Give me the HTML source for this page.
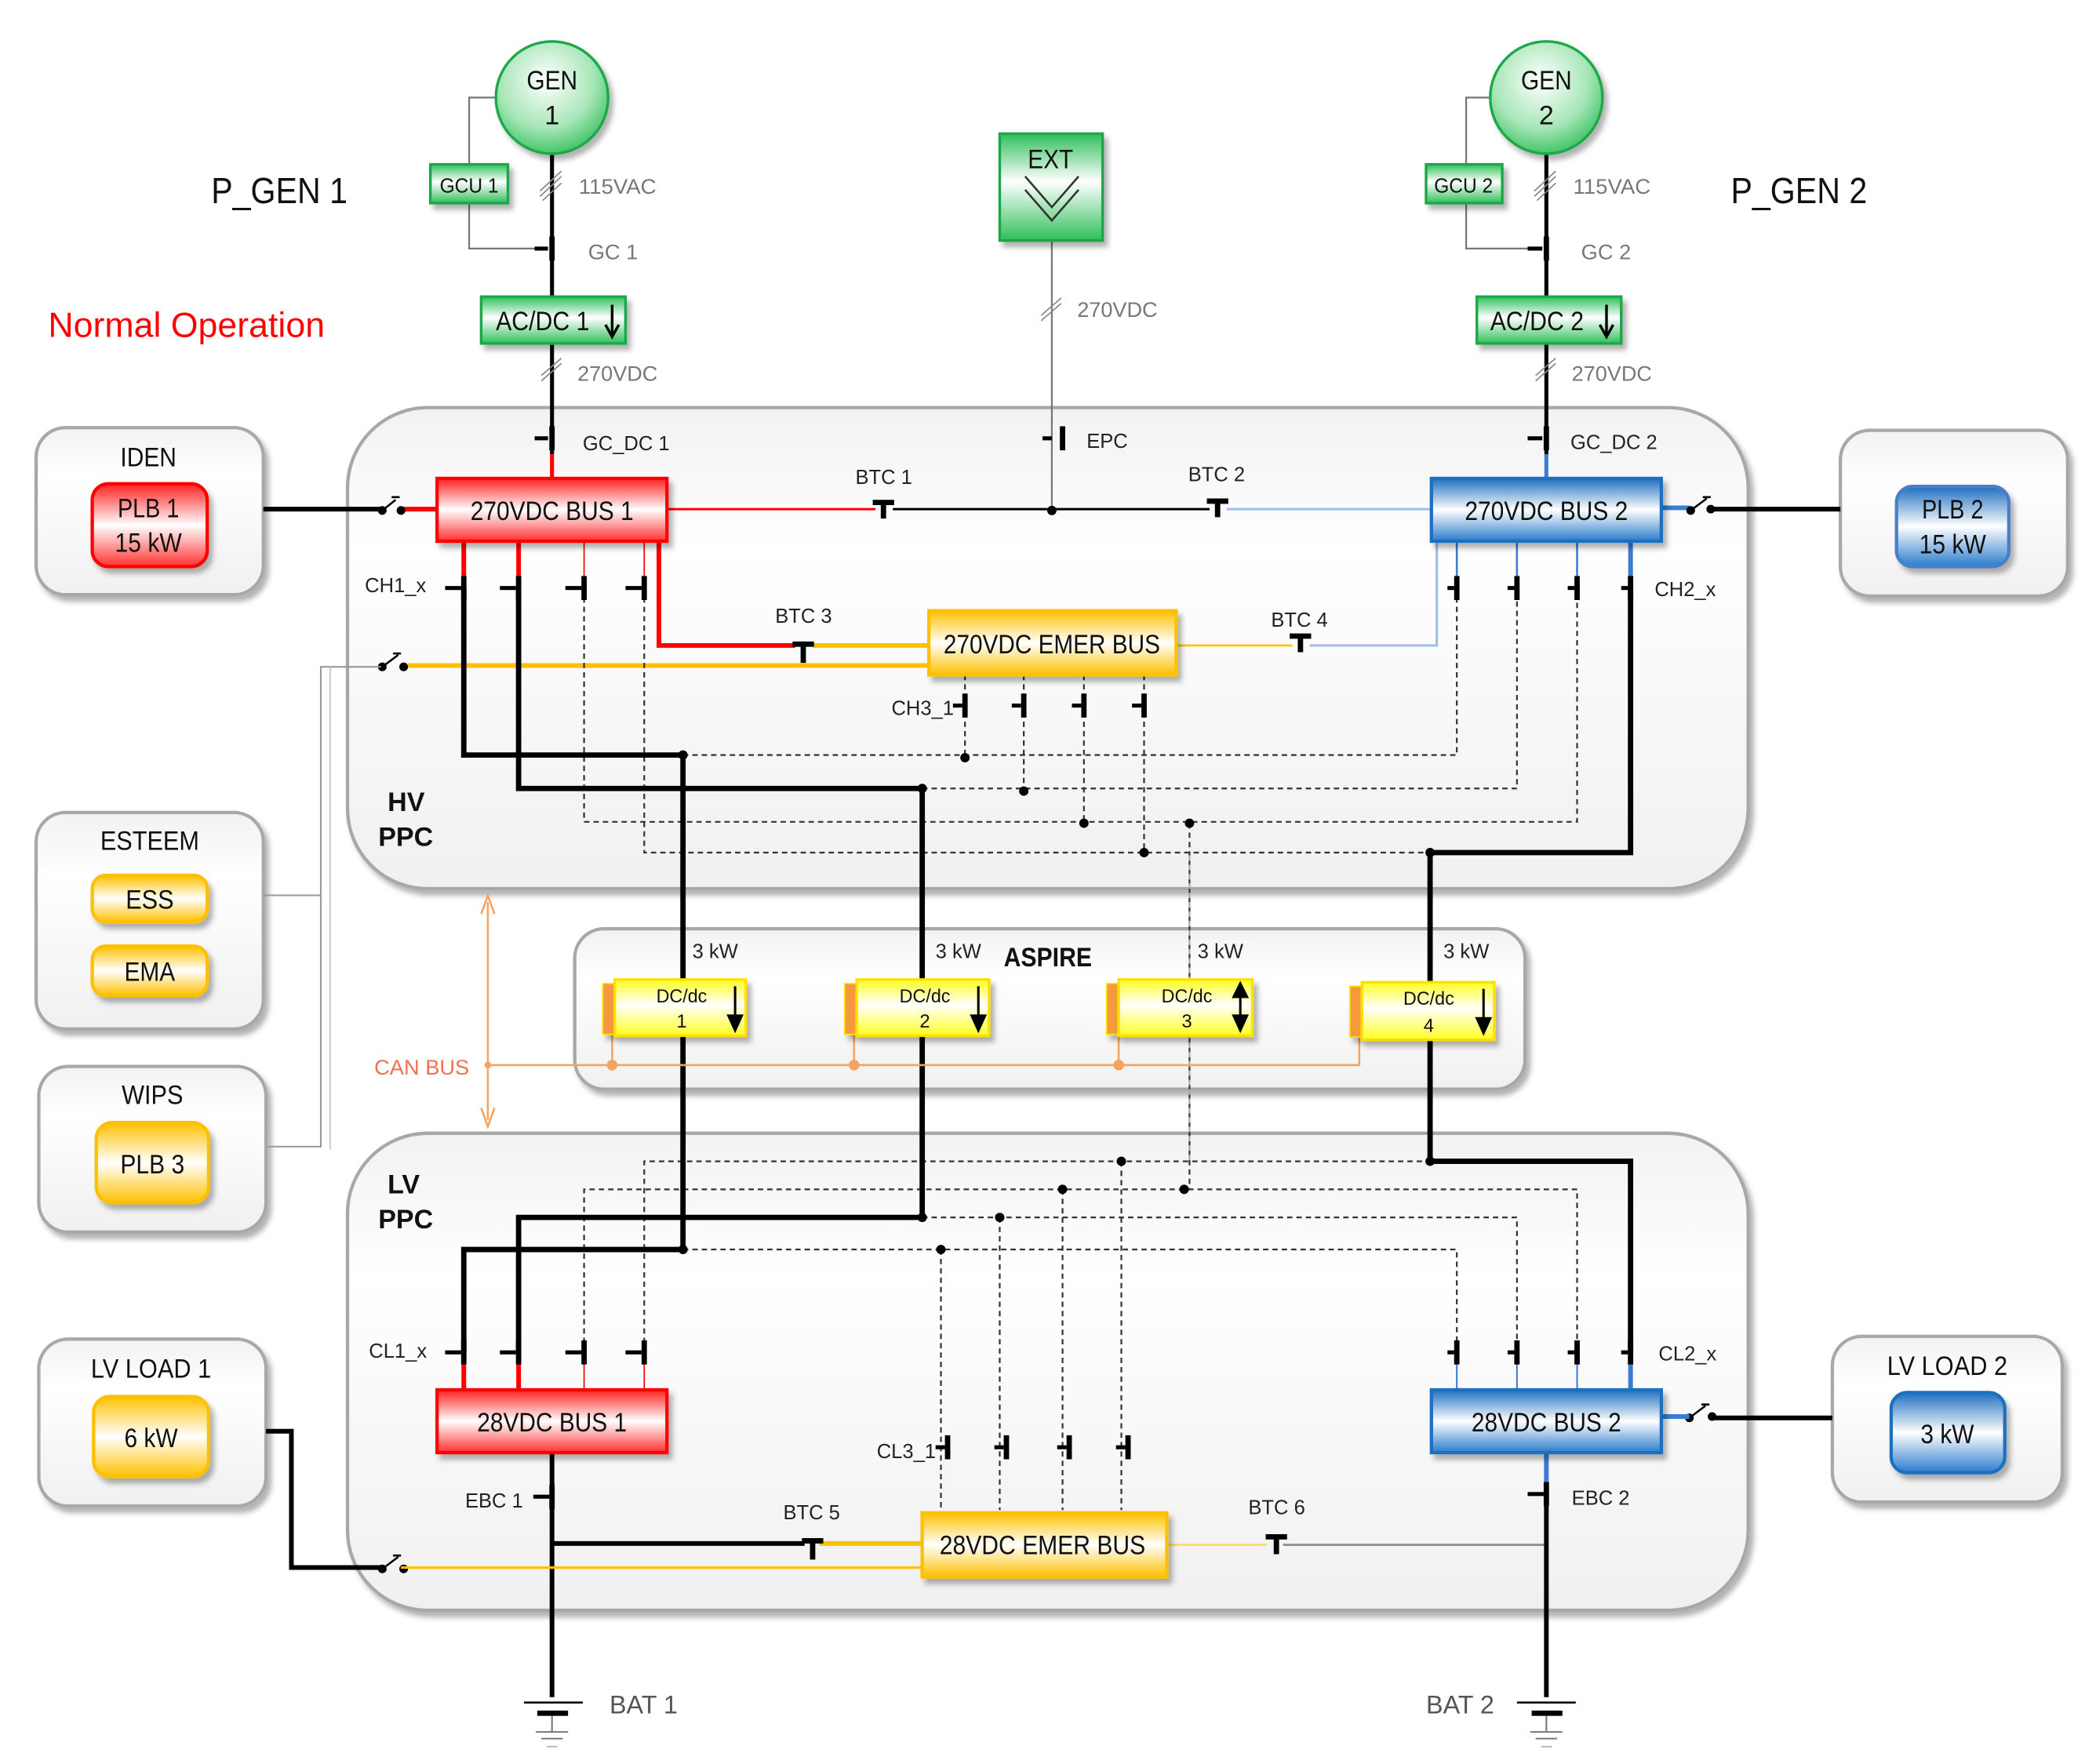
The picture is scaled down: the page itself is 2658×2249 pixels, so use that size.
<!DOCTYPE html>
<html><head><meta charset="utf-8"><style>
html,body{margin:0;padding:0;background:#fff}
svg{display:block}
text{font-family:"Liberation Sans",sans-serif}
</style></head><body>
<svg width="2658" height="2249" viewBox="0 0 1560 1320" xmlns="http://www.w3.org/2000/svg">
<defs>
<linearGradient id="gG" x1="0" y1="0" x2="0" y2="1"><stop offset="0" stop-color="#2fbf5a"/><stop offset="0.45" stop-color="#ffffff"/><stop offset="1" stop-color="#2fbf5a"/></linearGradient>
<radialGradient id="gC" cx="0.45" cy="0.35" r="0.7"><stop offset="0" stop-color="#ffffff"/><stop offset="0.6" stop-color="#a8e6b8"/><stop offset="1" stop-color="#2fbf5a"/></radialGradient>
<linearGradient id="gR" x1="0" y1="0" x2="0" y2="1"><stop offset="0" stop-color="#ff2020"/><stop offset="0.5" stop-color="#ffffff"/><stop offset="1" stop-color="#ff3030"/></linearGradient>
<linearGradient id="gB" x1="0" y1="0" x2="0" y2="1"><stop offset="0" stop-color="#1f6fc0"/><stop offset="0.5" stop-color="#ffffff"/><stop offset="1" stop-color="#2a7ccc"/></linearGradient>
<linearGradient id="gY" x1="0" y1="0" x2="0" y2="1"><stop offset="0" stop-color="#ffc000"/><stop offset="0.5" stop-color="#ffffff"/><stop offset="1" stop-color="#ffc000"/></linearGradient>
<linearGradient id="gDC" x1="0" y1="0" x2="0" y2="1"><stop offset="0" stop-color="#ffff20"/><stop offset="0.45" stop-color="#ffffff"/><stop offset="1" stop-color="#ffff20"/></linearGradient>
<linearGradient id="gP" x1="0" y1="0" x2="0" y2="1"><stop offset="0" stop-color="#f2f2f2"/><stop offset="0.3" stop-color="#ffffff"/><stop offset="1" stop-color="#f0f0f0"/></linearGradient>
<filter id="sh" x="-10%" y="-10%" width="130%" height="130%"><feDropShadow dx="3" dy="4" stdDeviation="2" flood-color="#000" flood-opacity="0.3"/></filter>
</defs>

<g fill="url(#gP)" stroke="#a8a8a8" stroke-width="2.5" filter="url(#sh)">
<rect x="260" y="305" width="1048" height="360" rx="60"/>
<rect x="430" y="695" width="711" height="120" rx="22"/>
<rect x="260" y="848" width="1048" height="357" rx="60"/>
<rect x="27" y="320" width="170" height="125" rx="22"/>
<rect x="1377" y="322" width="170" height="124" rx="22"/>
<rect x="27" y="608" width="170" height="162" rx="22"/>
<rect x="29" y="798" width="170" height="124" rx="22"/>
<rect x="29" y="1002" width="170" height="125" rx="22"/>
<rect x="1371" y="1000" width="172" height="124" rx="22"/>
</g>

<g fill="none" stroke="#777" stroke-width="1.3">
<path d="M372 73 H351 V186 H405"/>
<path d="M1116 73 H1097 V186 H1150"/>
<path d="M787 170 V382"/>
</g>
<g stroke="#000" stroke-width="3" fill="none">
<path d="M413 115 V340"/><path d="M1157 115 V340"/>
</g>
<path d="M413 340 V358" stroke="#f00" stroke-width="3"/>
<path d="M1157 340 V358" stroke="#3a7bd5" stroke-width="3"/>
<g stroke="#888" stroke-width="1"><path d="M404 147 L420 132 M404 143 L420 128 M406 150 L420 137"/><path d="M1148 147 L1164 132 M1148 143 L1164 128 M1150 150 L1164 137"/><path d="M405 285 L420 272 M405 281 L420 268"/><path d="M1149 285 L1164 272 M1149 281 L1164 268"/><path d="M779 240 L794 227 M779 236 L794 223"/></g>

<g filter="url(#sh)">
<circle cx="413" cy="73" r="42" fill="url(#gC)" stroke="#1fa84a" stroke-width="2"/>
<circle cx="1157" cy="73" r="42" fill="url(#gC)" stroke="#1fa84a" stroke-width="2"/>
<rect x="322" y="123" width="58" height="29" fill="url(#gG)" stroke="#1fa84a" stroke-width="2"/>
<rect x="1067" y="123" width="57" height="29" fill="url(#gG)" stroke="#1fa84a" stroke-width="2"/>
<rect x="360" y="222" width="108" height="35" fill="url(#gG)" stroke="#1fa84a" stroke-width="2"/>
<rect x="1105" y="222" width="108" height="35" fill="url(#gG)" stroke="#1fa84a" stroke-width="2"/>
<rect x="748" y="100" width="77" height="80" fill="url(#gG)" stroke="#1fa84a" stroke-width="2"/>
</g>
<path d="M767 142 L787 165 L807 142 M767 132 L787 155 L807 132" stroke="#333" stroke-width="1.5" fill="none"/>
<path d="M458 228 V250 M453 243 L458 252 L463 243" stroke="#000" stroke-width="2" fill="none"/>
<path d="M1202 228 V250 M1197 243 L1202 252 L1207 243" stroke="#000" stroke-width="2" fill="none"/>

<path d="M499 381 H655" stroke="#f00" stroke-width="1.8"/>
<path d="M668 381 H905" stroke="#000" stroke-width="1.8"/>
<path d="M918 381 H1071" stroke="#9fbfe6" stroke-width="1.8"/>
<circle cx="787" cy="382" r="3.5"/>
<path d="M197 381 H285" stroke="#000" stroke-width="3.5"/>
<path d="M302 381 H327" stroke="#f00" stroke-width="3.5"/>
<path d="M1243 380 H1264" stroke="#3a7bd5" stroke-width="3.5"/>
<path d="M1282 381 H1377" stroke="#000" stroke-width="3.5"/>
<path d="M305 498 H695" stroke="#ffc000" stroke-width="3.5"/>
<path d="M608 483 H695" stroke="#ffc000" stroke-width="3.5"/>
<path d="M493 405 V483 H595" stroke="#f00" stroke-width="3.5" fill="none"/>
<path d="M880 483 H967" stroke="#ffc000" stroke-width="1.5"/>
<path d="M980 483 H1075 V405" stroke="#9fbfe6" stroke-width="1.8" fill="none"/>
<g stroke="#000" stroke-width="1.5" fill="#000">
<circle cx="286" cy="382" r="2.5"/><circle cx="300" cy="382" r="2.5"/><path d="M286 382 L296 374 M293 372 H299" fill="none"/>
<circle cx="286" cy="499" r="2.5"/><circle cx="302" cy="499" r="2.5"/><path d="M286 499 L298 490 M294 489 H300" fill="none"/>
<circle cx="1265" cy="382" r="2.5"/><circle cx="1280" cy="381" r="2.5"/><path d="M1265 382 L1277 373 M1274 372 H1280" fill="none"/>
<circle cx="286" cy="1174" r="2.5"/><circle cx="302" cy="1174" r="2.5"/><path d="M286 1174 L298 1165 M294 1164 H300" fill="none"/>
<circle cx="1264" cy="1061" r="2.5"/><circle cx="1281" cy="1060" r="2.5"/><path d="M1264 1061 L1276 1052 M1273 1051 H1279" fill="none"/>
</g>
<path d="M285 499 H240 V858 H200 M240 670 H197" stroke="#999" stroke-width="1.2" fill="none"/>
<path d="M247 499 V860" stroke="#ccc" stroke-width="1.2" fill="none"/>

<g stroke="#f00" stroke-width="3.5"><path d="M347 405 V440"/><path d="M388 405 V440"/></g>
<g stroke="#f00" stroke-width="1"><path d="M437 405 V432"/><path d="M482 405 V432"/></g>
<g stroke="#3a7bd5" stroke-width="1.5"><path d="M1090 405 V440"/><path d="M1135 405 V440"/><path d="M1180 405 V440"/></g>
<path d="M1220 405 V440" stroke="#3a7bd5" stroke-width="3.5"/>

<g stroke="#333" stroke-width="1.3" stroke-dasharray="4 3" fill="none">
<path d="M437 440 V615 H1180 V440"/>
<path d="M482 440 V638 H1070"/>
<path d="M511 565 H1090 V440"/>
<path d="M690 590 H1135 V440"/>
<path d="M722 505 V567"/><path d="M766 505 V592"/><path d="M811 505 V616"/><path d="M856 505 V638"/>
<path d="M890 616 V890"/>
<path d="M437 1012 V890 H1180 V1012"/>
<path d="M482 1012 V869 H1070"/>
<path d="M511 935 H1090 V1012"/>
<path d="M690 911 H1135 V1012"/>
<path d="M704 935 V1130"/><path d="M748 911 V1130"/><path d="M795 890 V1130"/><path d="M839 869 V1130"/>
</g>
<path d="M890 640 V870" stroke="#aaa" stroke-width="1.3" stroke-dasharray="4 3"/>

<g stroke="#000" stroke-width="4" fill="none">
<path d="M347 440 V565 H511 V935 H347 V1012"/>
<path d="M388 440 V590 H690 V911 H388 V1012"/>
<path d="M1220 440 V638 H1070 V869 H1220 V1012"/>
</g>
<g fill="#000">
<circle cx="511" cy="565" r="3.5"/><circle cx="690" cy="590" r="3.5"/><circle cx="722" cy="567" r="3.5"/><circle cx="766" cy="592" r="3.5"/><circle cx="811" cy="616" r="3.5"/><circle cx="856" cy="638" r="3.5"/><circle cx="890" cy="616" r="3.5"/><circle cx="1070" cy="638" r="3.5"/>
<circle cx="839" cy="869" r="3.5"/><circle cx="795" cy="890" r="3.5"/><circle cx="886" cy="890" r="3.5"/><circle cx="748" cy="911" r="3.5"/><circle cx="704" cy="935" r="3.5"/><circle cx="690" cy="911" r="3.5"/><circle cx="511" cy="935" r="3.5"/><circle cx="1070" cy="869" r="3.5"/>
</g>

<g stroke="#f4a460" stroke-width="1.5" fill="none">
<path d="M365 675 V838"/><path d="M360 684 L365 670 L370 684 M360 829 L365 843 L370 829"/>
<path d="M365 797 H1017 V762"/><path d="M458 797 V765"/><path d="M639 797 V765"/><path d="M837 797 V765"/>
</g>
<g fill="#f4a460"><circle cx="458" cy="797" r="4"/><circle cx="639" cy="797" r="4"/><circle cx="837" cy="797" r="4"/><circle cx="365" cy="797" r="2.5"/></g>

<g filter="url(#sh)">
<rect x="451" y="736" width="12" height="38" fill="#f49a3c" stroke="#ffe000"/>
<rect x="460" y="733" width="98" height="42" fill="url(#gDC)" stroke="#ffe000" stroke-width="2"/>
<rect x="632" y="736" width="12" height="38" fill="#f49a3c" stroke="#ffe000"/>
<rect x="641" y="733" width="99" height="42" fill="url(#gDC)" stroke="#ffe000" stroke-width="2"/>
<rect x="828" y="736" width="12" height="38" fill="#f49a3c" stroke="#ffe000"/>
<rect x="837" y="733" width="100" height="42" fill="url(#gDC)" stroke="#ffe000" stroke-width="2"/>
<rect x="1010" y="738" width="12" height="38" fill="#f49a3c" stroke="#ffe000"/>
<rect x="1019" y="735" width="99" height="43" fill="url(#gDC)" stroke="#ffe000" stroke-width="2"/>
</g>
<g stroke="#000" stroke-width="1.8" fill="#000">
<path d="M550 738 V765"/><path d="M545 760 L550 771 L555 760Z"/>
<path d="M732 738 V765"/><path d="M727 760 L732 771 L737 760Z"/>
<path d="M928 742 V765"/><path d="M923 746 L928 736 L933 746Z"/><path d="M923 760 L928 771 L933 760Z"/>
<path d="M1110 740 V767"/><path d="M1105 762 L1110 773 L1115 762Z"/>
</g>

<g stroke="#f00" stroke-width="1"><path d="M437 1020 V1040"/><path d="M482 1020 V1040"/></g>
<g stroke="#f00" stroke-width="3.5"><path d="M347 1012 V1040"/><path d="M388 1012 V1040"/></g>
<g stroke="#3a7bd5" stroke-width="1.2"><path d="M1090 1020 V1040"/><path d="M1135 1020 V1040"/><path d="M1180 1020 V1040"/></g>
<path d="M1220 1012 V1040" stroke="#3a7bd5" stroke-width="3.5"/>
<path d="M413 1087 V1270" stroke="#000" stroke-width="3.5"/>
<path d="M413 1155 H602" stroke="#000" stroke-width="3.5"/>
<path d="M613 1155 H690" stroke="#ffc000" stroke-width="3.5"/>
<path d="M300 1173 H690" stroke="#ffc000" stroke-width="1.8"/>
<path d="M199 1071 H218 V1173 H285" stroke="#000" stroke-width="3.5" fill="none"/>
<path d="M873 1156 H948" stroke="#ffd966" stroke-width="1.5"/>
<path d="M960 1156 H1157" stroke="#888" stroke-width="1.5"/>
<path d="M1157 1087 V1112" stroke="#3a7bd5" stroke-width="3.5"/>
<path d="M1157 1112 V1270" stroke="#000" stroke-width="3.5"/>
<path d="M1243 1060 H1264" stroke="#3a7bd5" stroke-width="3.5"/>
<path d="M1282 1061 H1371" stroke="#000" stroke-width="3.5"/>
<g stroke="#000"><path d="M392 1274 H436" stroke-width="1.5"/><path d="M402 1282 H425" stroke-width="4"/><path d="M413 1284 V1296 M401 1296 H425 M405 1301 H421" stroke="#777" stroke-width="1.2"/><path d="M409 1307 H417" stroke="#bbb" stroke-width="1.2"/>
<path d="M1135 1274 H1179" stroke-width="1.5"/><path d="M1146 1282 H1169" stroke-width="4"/><path d="M1157 1284 V1296 M1145 1296 H1169 M1149 1301 H1165" stroke="#777" stroke-width="1.2"/><path d="M1153 1307 H1161" stroke="#bbb" stroke-width="1.2"/></g>

<g stroke="#000" fill="none">
<path stroke-width="3" d="M400 186 h10 M400 328 h10 M780 328 h7 M1143 186 h11 M1143 328 h11
M333 440 h12 M374 440 h12 M423 440 h12 M468 440 h12
M1083 440 h5 M1128 440 h5 M1173 440 h5 M1213 440 h5
M713 528 h7 M757 528 h7 M802 528 h7 M847 528 h7
M333 1012 h12 M374 1012 h12 M423 1012 h12 M468 1012 h12
M1083 1012 h5 M1128 1012 h5 M1173 1012 h5 M1213 1012 h5
M700 1083 h7 M744 1083 h7 M791 1083 h7 M835 1083 h7
M399 1120 h12 M1143 1118 h12"/>
<path stroke-width="4" d="M413 177 v18 M413 319 v18 M795 319 v18 M1157 177 v18 M1157 319 v18
M347 431 v18 M388 431 v18 M437 431 v18 M482 431 v18
M1090 431 v18 M1135 431 v18 M1180 431 v18 M1220 431 v18
M722 519 v18 M766 519 v18 M811 519 v18 M856 519 v18
M347 1003 v18 M388 1003 v18 M437 1003 v18 M482 1003 v18
M1090 1003 v18 M1135 1003 v18 M1180 1003 v18 M1220 1003 v18
M709 1074 v18 M753 1074 v18 M800 1074 v18 M844 1074 v18
M413 1111 v18 M1157 1109 v18"/>
<path stroke-width="4" d="M653 376 h16 M661 376 v12 M903 375 h16 M911 375 v12 M593 482 h16 M601 482 v14 M965 476 h16 M973 476 v12 M600 1153 h16 M608 1153 v14 M947 1150 h16 M955 1150 v13"/>
</g>

<g filter="url(#sh)" stroke-width="2.5">
<rect x="327" y="358" width="172" height="47" fill="url(#gR)" stroke="#f00"/>
<rect x="1071" y="358" width="172" height="47" fill="url(#gB)" stroke="#1f6fc0"/>
<rect x="695" y="457" width="185" height="48" fill="url(#gY)" stroke="#ffc000"/>
<rect x="327" y="1040" width="172" height="47" fill="url(#gR)" stroke="#f00"/>
<rect x="1071" y="1040" width="172" height="47" fill="url(#gB)" stroke="#1f6fc0"/>
<rect x="690" y="1132" width="183" height="48" fill="url(#gY)" stroke="#ffc000"/>
<rect x="69" y="362" width="86" height="62" rx="12" fill="url(#gR)" stroke="#f00"/>
<rect x="1419" y="364" width="84" height="60" rx="12" fill="url(#gB)" stroke="#4a7fc8"/>
<rect x="69" y="655" width="86" height="35" rx="10" fill="url(#gY)" stroke="#ffc000"/>
<rect x="69" y="708" width="86" height="37" rx="10" fill="url(#gY)" stroke="#ffc000"/>
<rect x="72" y="840" width="84" height="60" rx="12" fill="url(#gY)" stroke="#ffc000"/>
<rect x="70" y="1045" width="86" height="60" rx="12" fill="url(#gY)" stroke="#ffc000"/>
<rect x="1415" y="1042" width="85" height="60" rx="12" fill="url(#gB)" stroke="#1f6fc0"/>
</g>

<g fill="#111" font-size="20" text-anchor="middle" lengthAdjust="spacingAndGlyphs">
<text x="413" y="67" textLength="38" lengthAdjust="spacingAndGlyphs">GEN</text><text x="413" y="93">1</text>
<text x="1157" y="67" textLength="38" lengthAdjust="spacingAndGlyphs">GEN</text><text x="1157" y="93">2</text>
<text x="786" y="126" textLength="34" lengthAdjust="spacingAndGlyphs">EXT</text>
<text x="406" y="247" textLength="70" lengthAdjust="spacingAndGlyphs">AC/DC 1</text><text x="1150" y="247" textLength="70" lengthAdjust="spacingAndGlyphs">AC/DC 2</text>
<text x="413" y="389" textLength="122" lengthAdjust="spacingAndGlyphs">270VDC BUS 1</text><text x="1157" y="389" textLength="122" lengthAdjust="spacingAndGlyphs">270VDC BUS 2</text>
<text x="787" y="489" textLength="162" lengthAdjust="spacingAndGlyphs">270VDC EMER BUS</text>
<text x="413" y="1071" textLength="112" lengthAdjust="spacingAndGlyphs">28VDC BUS 1</text><text x="1157" y="1071" textLength="112" lengthAdjust="spacingAndGlyphs">28VDC BUS 2</text>
<text x="780" y="1163" textLength="154" lengthAdjust="spacingAndGlyphs">28VDC EMER BUS</text>
<text x="111" y="349" textLength="42" lengthAdjust="spacingAndGlyphs">IDEN</text><text x="111" y="387" textLength="46" lengthAdjust="spacingAndGlyphs">PLB 1</text><text x="111" y="413" textLength="50" lengthAdjust="spacingAndGlyphs">15 kW</text>
<text x="1461" y="388" textLength="46" lengthAdjust="spacingAndGlyphs">PLB 2</text><text x="1461" y="414" textLength="50" lengthAdjust="spacingAndGlyphs">15 kW</text>
<text x="112" y="636" textLength="74" lengthAdjust="spacingAndGlyphs">ESTEEM</text><text x="112" y="680" textLength="36" lengthAdjust="spacingAndGlyphs">ESS</text><text x="112" y="734" textLength="38" lengthAdjust="spacingAndGlyphs">EMA</text>
<text x="114" y="826" textLength="46" lengthAdjust="spacingAndGlyphs">WIPS</text><text x="114" y="878" textLength="48" lengthAdjust="spacingAndGlyphs">PLB 3</text>
<text x="113" y="1031" textLength="90" lengthAdjust="spacingAndGlyphs">LV LOAD 1</text><text x="113" y="1083" textLength="40" lengthAdjust="spacingAndGlyphs">6 kW</text>
<text x="1457" y="1029" textLength="90" lengthAdjust="spacingAndGlyphs">LV LOAD 2</text><text x="1457" y="1080" textLength="40" lengthAdjust="spacingAndGlyphs">3 kW</text>
</g>
<g fill="#111" font-size="15" text-anchor="middle">
<text x="351" y="144" textLength="44" lengthAdjust="spacingAndGlyphs">GCU 1</text><text x="1095" y="144" textLength="44" lengthAdjust="spacingAndGlyphs">GCU 2</text>
</g>
<g fill="#111" font-size="14" text-anchor="middle">
<text x="510" y="750" textLength="38" lengthAdjust="spacingAndGlyphs">DC/dc</text><text x="510" y="769">1</text>
<text x="692" y="750" textLength="38" lengthAdjust="spacingAndGlyphs">DC/dc</text><text x="692" y="769">2</text>
<text x="888" y="750" textLength="38" lengthAdjust="spacingAndGlyphs">DC/dc</text><text x="888" y="769">3</text>
<text x="1069" y="752" textLength="38" lengthAdjust="spacingAndGlyphs">DC/dc</text><text x="1069" y="772">4</text>
</g>
<g fill="#222" font-size="15">
<text x="518" y="717">3 kW</text><text x="700" y="717">3 kW</text><text x="896" y="717">3 kW</text><text x="1080" y="717">3 kW</text>
<text x="640" y="362">BTC 1</text><text x="889" y="360">BTC 2</text><text x="580" y="466">BTC 3</text><text x="951" y="469">BTC 4</text>
<text x="586" y="1137">BTC 5</text><text x="934" y="1133">BTC 6</text>
<text x="273" y="443">CH1_x</text><text x="1238" y="446">CH2_x</text><text x="667" y="535">CH3_1</text>
<text x="276" y="1016">CL1_x</text><text x="1241" y="1018">CL2_x</text><text x="656" y="1091">CL3_1</text>
<text x="436" y="337">GC_DC 1</text><text x="1175" y="336">GC_DC 2</text><text x="813" y="335">EPC</text>
<text x="348" y="1128">EBC 1</text><text x="1176" y="1126">EBC 2</text>
</g>
<g fill="#777" font-size="16">
<text x="433" y="145" textLength="58" lengthAdjust="spacingAndGlyphs">115VAC</text><text x="1177" y="145" textLength="58" lengthAdjust="spacingAndGlyphs">115VAC</text>
<text x="440" y="194">GC 1</text><text x="1183" y="194">GC 2</text>
<text x="432" y="285" textLength="60" lengthAdjust="spacingAndGlyphs">270VDC</text><text x="1176" y="285" textLength="60" lengthAdjust="spacingAndGlyphs">270VDC</text><text x="806" y="237" textLength="60" lengthAdjust="spacingAndGlyphs">270VDC</text>
</g>
<g fill="#555" font-size="19"><text x="456" y="1282">BAT 1</text><text x="1067" y="1282">BAT 2</text></g>
<text x="280" y="804" fill="#f07050" font-size="16">CAN BUS</text>
<g fill="#111" font-size="20" font-weight="bold">
<text x="290" y="607">HV</text><text x="283" y="633">PPC</text>
<text x="290" y="893">LV</text><text x="283" y="919">PPC</text>
<text x="751" y="723" textLength="66" lengthAdjust="spacingAndGlyphs">ASPIRE</text>
</g>
<g fill="#111" font-size="27"><text x="158" y="152" textLength="102" lengthAdjust="spacingAndGlyphs">P_GEN 1</text><text x="1295" y="152" textLength="102" lengthAdjust="spacingAndGlyphs">P_GEN 2</text></g>
<text x="36" y="252" fill="#f00" font-size="26" textLength="207" lengthAdjust="spacingAndGlyphs">Normal Operation</text>
</svg>
</body></html>
